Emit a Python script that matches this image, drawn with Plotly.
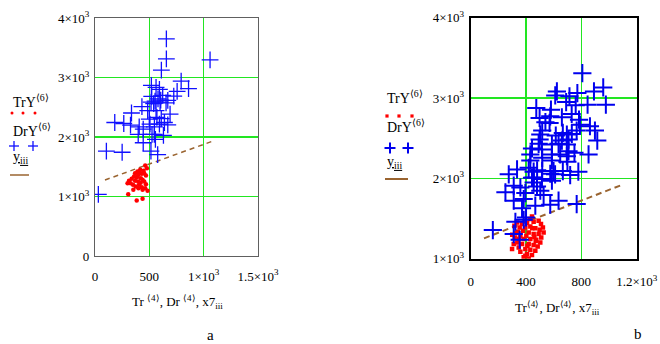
import plotly.graph_objects as go

# ---------------- Panel a data ----------------
a_tr_x = [462, 478, 447, 416, 391, 369, 400, 431, 453, 469, 359, 381, 422, 438, 338, 313, 369, 397,
          453, 469, 406, 350, 375, 431, 300, 328, 462, 400, 438, 306, 484, 384, 438, 353, 412, 390, 420]
a_tr_y = [1521, 1476, 1431, 1448, 1420, 1392, 1364, 1381, 1392, 1353, 1336, 1319, 1308, 1280, 1297, 1263,
          1263, 1252, 1252, 1207, 1196, 1196, 1168, 1157, 1224, 1224, 1140, 1140, 1112, 1039, 1095, 933,
          961, 1112, 1409, 1330, 1230]
a_dr_x = [657, 657, 611, 1059, 793, 861, 756, 725, 519, 562, 593, 623, 670, 522, 553, 599, 654, 516,
          432, 485, 336, 562, 691, 182, 265, 327, 407, 444, 398, 506, 593, 639, 670, 547, 525, 444,
          546, 630, 556, 105, 250, 515, 577, 31, 580, 605, 540, 500, 570, 610]
a_dr_y = [3648, 3313, 3125, 3295, 2938, 2812, 2767, 2688, 2869, 2835, 2800, 2700, 2614, 2682, 2603, 2585,
          2575, 2585, 2511, 2443, 2403, 2443, 2386, 2244, 2227, 2199, 2170, 2131, 2045, 2216, 2216, 2244,
          2205, 2170, 2045, 1903, 2045, 2028, 1960, 1761, 1744, 1761, 1705, 1037, 2640, 2620, 2560, 2300,
          2330, 2310]
a_line_x = [92, 1079]
a_line_y = [1277, 1928]

# ---------------- Panel b data ----------------
b_tr_x = [443, 426, 455, 491, 508, 407, 371, 335, 316, 354, 395, 431, 467, 498, 378, 340, 419, 455,
          491, 510, 402, 359, 318, 383, 431, 474, 503, 337, 371, 419, 455, 484, 299, 347, 395, 431,
          467, 359, 407, 443, 383, 419, 395, 311, 527, 522, 330, 390, 445, 470, 350, 410, 460, 300]
b_tr_y = [1527, 1494, 1460, 1473, 1431, 1444, 1431, 1452, 1411, 1390, 1390, 1402, 1378, 1361, 1348, 1336,
          1328, 1307, 1307, 1265, 1286, 1286, 1265, 1245, 1245, 1236, 1203, 1203, 1182, 1182, 1170, 1153,
          1120, 1141, 1120, 1112, 1099, 1087, 1058, 1046, 1017, 1004, 1037, 1182, 1328, 1390, 1320, 1470,
          1380, 1220, 1250, 1160, 1270, 1300]
b_dr_x = [807, 623, 611, 771, 891, 958, 714, 690, 759, 845, 977, 474, 580, 575, 659, 498, 730, 783,
          790, 570, 862, 898, 915, 517, 503, 666, 695, 731, 766, 615, 659, 707, 498, 491, 587, 635,
          695, 852, 750, 443, 707, 515, 431, 587, 647, 695, 517, 587, 699, 431, 335, 275, 419, 517,
          599, 666, 778, 719, 455, 575, 443, 455, 455, 515, 587, 311, 359, 251, 479, 503, 527, 395,
          311, 383, 467, 575, 635, 766, 371, 383, 323, 160, 311, 354, 400, 480, 540, 610]
b_dr_y = [3310, 3083, 3033, 3062, 3083, 3132, 3021, 2950, 2909, 2917, 2917, 2876, 2855, 2773, 2760, 2752,
          2802, 2731, 2669, 2690, 2649, 2595, 2471, 2595, 2545, 2566, 2545, 2554, 2595, 2533, 2471, 2483,
          2483, 2430, 2421, 2430, 2421, 2298, 2318, 2372, 2339, 2360, 2298, 2298, 2298, 2277, 2256, 2223,
          2207, 2223, 2112, 2050, 2132, 2091, 2091, 2091, 2083, 2041, 2083, 2058, 2008, 2012, 1950, 1992,
          1971, 1909, 1888, 1826, 1900, 1846, 1792, 1817, 1722, 1743, 1660, 1672, 1722, 1680, 1627, 1485,
          1460, 1357, 1307, 1236, 1514, 2100, 2700, 2050]
b_line_x = [96, 1103]
b_line_y = [1254, 1926]

# tick labels
a_xticks = [0, 500, 1000, 1500]
a_xtext = ["0", "500", "1×10<sup>3</sup>", "1.5×10<sup>3</sup>"]
a_yticks = [0, 1000, 2000, 3000, 4000]
a_ytext = ["0", "1×10<sup>3</sup>", "2×10<sup>3</sup>", "3×10<sup>3</sup>", "4×10<sup>3</sup>"]
b_xticks = [0, 400, 800, 1200]
b_xtext = ["0", "400", "800", "1.2×10<sup>3</sup>"]
b_yticks = [1000, 2000, 3000, 4000]
b_ytext = ["1×10<sup>3</sup>", "2×10<sup>3</sup>", "3×10<sup>3</sup>", "4×10<sup>3</sup>"]

FONT = "Liberation Serif, Times New Roman, serif"
GRID = "#22e622"
BROWN = "#9a6430"
BLUE_A = "#1010ff"
BLUE_B = "#0000ee"

fig = go.Figure()

# panel a
fig.add_trace(go.Scatter(x=a_line_x, y=a_line_y, mode="lines", xaxis="x", yaxis="y",
                         line=dict(color=BROWN, width=1.5, dash="5px,4px")))
fig.add_trace(go.Scatter(x=a_tr_x, y=a_tr_y, mode="markers", xaxis="x", yaxis="y",
                         marker=dict(color="#ff0000", size=4.5, symbol="circle")))
fig.add_trace(go.Scatter(x=a_dr_x, y=a_dr_y, mode="markers", xaxis="x", yaxis="y",
                         marker=dict(color=BLUE_A, size=12, symbol="cross-thin",
                                     line=dict(color=BLUE_A, width=1.3))))
# panel b
fig.add_trace(go.Scatter(x=b_line_x, y=b_line_y, mode="lines", xaxis="x2", yaxis="y2",
                         line=dict(color=BROWN, width=2, dash="6px,4px")))
fig.add_trace(go.Scatter(x=b_tr_x, y=b_tr_y, mode="markers", xaxis="x2", yaxis="y2",
                         marker=dict(color="#ff0000", size=4.5, symbol="square")))
fig.add_trace(go.Scatter(x=b_dr_x, y=b_dr_y, mode="markers", xaxis="x2", yaxis="y2",
                         marker=dict(color=BLUE_B, size=13, symbol="cross-thin",
                                     line=dict(color=BLUE_B, width=2))))

axis_common = dict(showgrid=True, gridcolor=GRID, gridwidth=1.5, zeroline=False, showline=True,
                   mirror=True, ticks="", automargin=False,
                   tickfont=dict(family=FONT, size=13, color="black"))

fig.update_layout(
    template="none", hovermode=False, dragmode=False,
    width=660, height=344, margin=dict(l=0, r=0, t=0, b=0, pad=0),
    paper_bgcolor="white", plot_bgcolor="white", showlegend=False,
    xaxis=dict(domain=[0.1439, 0.3909], range=[0, 1500], tickvals=a_xticks, ticktext=a_xtext,
               linecolor="#606060", linewidth=1, ticklabelstandoff=8, anchor="y", **axis_common),
    yaxis=dict(domain=[0.2558, 0.9477], range=[0, 4000], tickvals=a_yticks, ticktext=a_ytext,
               linecolor="#606060", linewidth=1, ticklabelstandoff=2, anchor="x", **axis_common),
    xaxis2=dict(domain=[0.7132, 0.9647], range=[0, 1200], tickvals=b_xticks, ticktext=b_xtext,
                linecolor="black", linewidth=2, ticklabelstandoff=10, anchor="y2", **axis_common),
    yaxis2=dict(domain=[0.2479, 0.9485], range=[1000, 4000], tickvals=b_yticks, ticktext=b_ytext,
                linecolor="black", linewidth=2, ticklabelstandoff=2, anchor="x2", **axis_common),
)

def ann(x, y, text, size=14, color="black", xanchor="center"):
    fig.add_annotation(x=x / 660, y=1 - y / 344, xref="paper", yref="paper", text=text,
                       showarrow=False, xanchor=xanchor, yanchor="middle",
                       font=dict(family=FONT, size=size, color=color))

def px_line(x0, y0, x1, y1, color, width):
    fig.add_shape(type="line", xref="paper", yref="paper", x0=x0 / 660, x1=x1 / 660,
                  y0=1 - y0 / 344, y1=1 - y1 / 344, line=dict(color=color, width=width))

def legend_plus(cx, cy, half, color, width):
    px_line(cx - half, cy, cx + half, cy, color, width)
    px_line(cx, cy - half, cx, cy + half, color, width)

def legend_dot(cx, cy, r, color, square=False):
    fig.add_shape(type="rect" if square else "circle", xref="paper", yref="paper",
                  x0=(cx - r) / 660, x1=(cx + r) / 660, y0=1 - (cy - r) / 344, y1=1 - (cy + r) / 344,
                  fillcolor=color, line=dict(width=0))

# axis titles
ann(177, 302, "Tr <sup>⟨4⟩</sup>, Dr <sup>⟨4⟩</sup>, x7<sub>iii</sub>", size=13)
ann(557, 308, "Tr<sup>⟨4⟩</sup>, Dr<sup>⟨4⟩</sup>, x7<sub>iii</sub>", size=13)
# panel letters
ann(210, 335, "a", size=15)
ann(638, 334, "b", size=15)

# legend a
ann(11, 101, "TrY<sup>⟨6⟩</sup>", xanchor="left")
for cx in (12, 23, 35):
    legend_dot(cx, 113, 1.5, "#ff0000")
ann(11, 130, "DrY<sup>⟨6⟩</sup>", xanchor="left")
for cx in (14, 33):
    legend_plus(cx, 146, 5, BLUE_A, 1.3)
ann(11, 158, "<u>y<sub>iii</sub></u>", xanchor="left")
px_line(10, 175, 29, 175, BROWN, 1.5)

# legend b
ann(385, 97, "TrY<sup>⟨6⟩</sup>", xanchor="left")
for cx in (387, 399, 412):
    legend_dot(cx, 116, 1.6, "#ff0000", square=True)
ann(385, 126, "DrY<sup>⟨6⟩</sup>", xanchor="left")
for cx in (390, 408):
    legend_plus(cx, 148, 5.5, BLUE_B, 2)
ann(385, 163, "<u>y<sub>iii</sub></u>", xanchor="left")
px_line(385, 179, 408, 179, BROWN, 2)

fig.write_html("out.html", config={"displayModeBar": False, "staticPlot": True},
               post_script="document.body.style.margin='0px';document.body.style.overflow='hidden';")
